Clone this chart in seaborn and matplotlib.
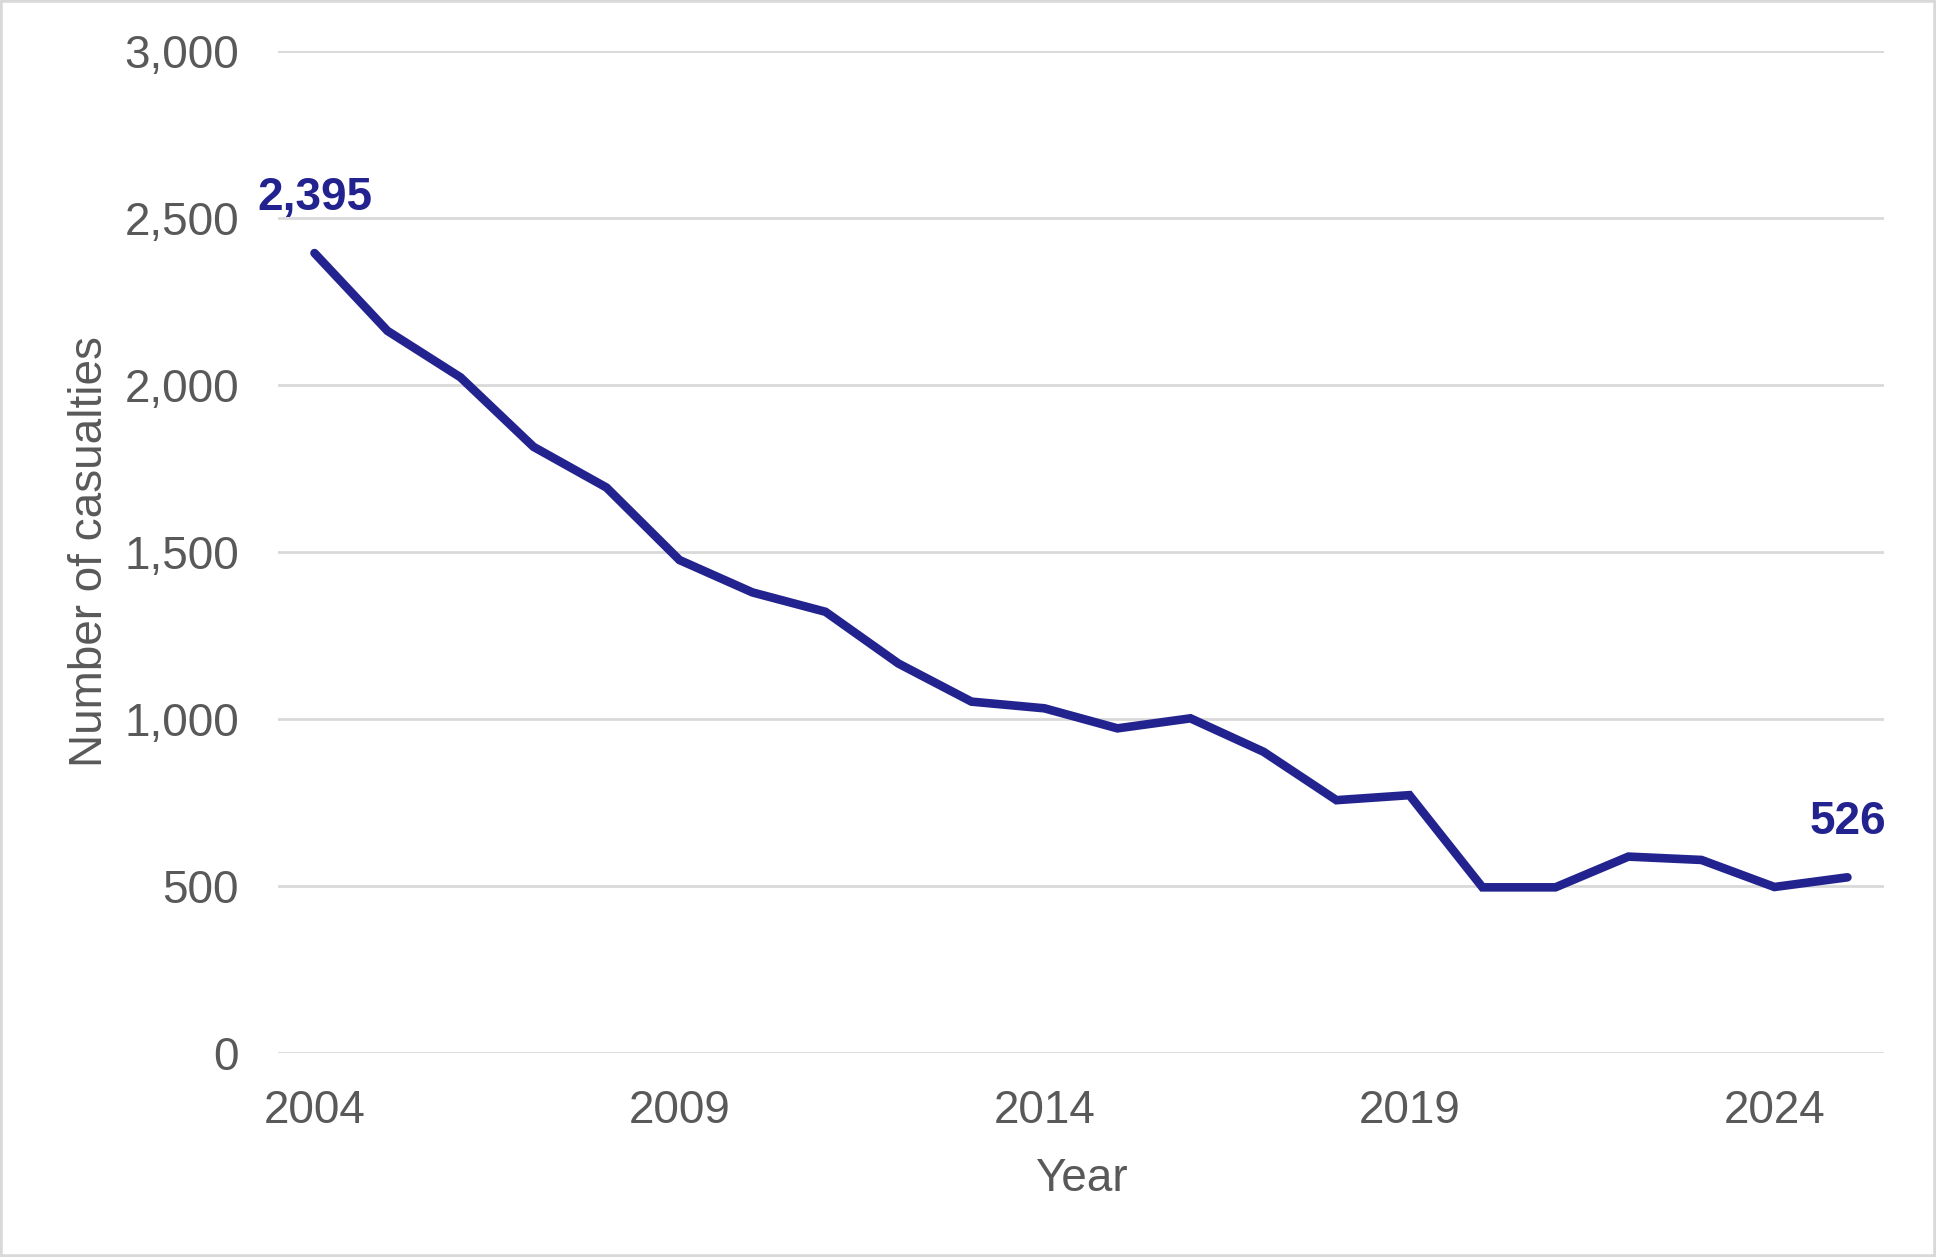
import matplotlib
matplotlib.use("Agg")
import matplotlib.pyplot as plt
import seaborn as sns
import pandas as pd
from matplotlib.patches import Rectangle
from matplotlib.ticker import FuncFormatter

years = list(range(2004, 2026))
casualties = [2395, 2162, 2023, 1815, 1693, 1476, 1379, 1321, 1166, 1052, 1032,
              972, 1002, 902, 757, 772, 496, 496, 588, 578, 497, 526]
x_ticks = [2004, 2009, 2014, 2019, 2024]
y_ticks = [0, 500, 1000, 1500, 2000, 2500, 3000]

df = pd.DataFrame({"Year": years, "Casualties": casualties})

sns.set_style("white")
plt.rcParams["font.family"] = ["Liberation Sans", "DejaVu Sans"]

line_col = "#23238F"
text_col = "#595959"

fig = plt.figure(figsize=(19.36, 12.57), dpi=100)
ax = fig.add_axes([0.1436, 0.1623, 0.9731 - 0.1436, 0.9594 - 0.1623])

sns.lineplot(data=df, x="Year", y="Casualties", ax=ax, color=line_col,
             linewidth=6.2, solid_capstyle="round", solid_joinstyle="miter")

ax.set_xlim(2003.5, 2025.5)
ax.set_ylim(0, 3000)
ax.set_xticks(x_ticks)
ax.set_yticks(y_ticks)
ax.yaxis.set_major_formatter(FuncFormatter(lambda v, p: f"{int(v):,}"))
ax.grid(axis="y", color="#D9D9D9", linewidth=2)
ax.set_axisbelow(True)
for s in ax.spines.values():
    s.set_visible(False)
ax.tick_params(axis="both", length=0, labelsize=33, labelcolor=text_col)
ax.tick_params(axis="y", pad=28)
ax.tick_params(axis="x", pad=26)
ax.set_xlabel("Year", fontsize=33, color=text_col, labelpad=17)
ax.set_ylabel("Number of casualties", fontsize=33, color=text_col, labelpad=9)

# end labels
for i in [0, len(years) - 1]:
    ax.annotate(f"{casualties[i]:,}", (years[i], casualties[i]),
                xytext=(0, 40), textcoords="offset points", ha="center",
                va="center", fontsize=33, fontweight="bold", color=line_col)

fig.patches.append(Rectangle((0, 0), 1, 1, transform=fig.transFigure,
                             fill=False, edgecolor="#D9D9D9", linewidth=4))

fig.savefig("out.png", dpi=100)
